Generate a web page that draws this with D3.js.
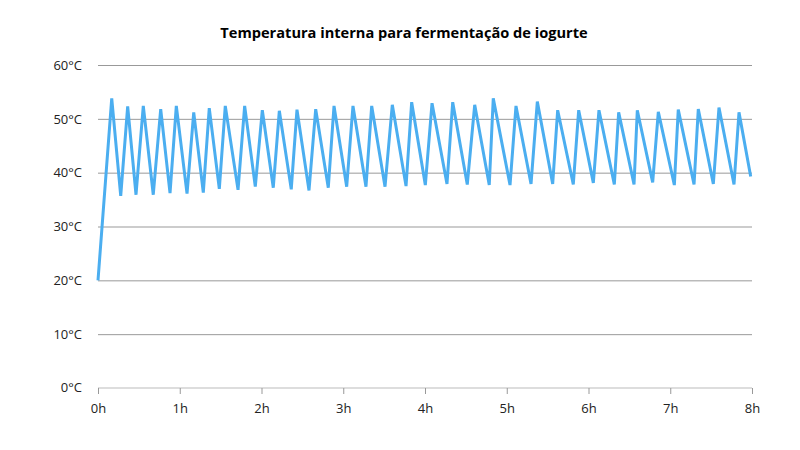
<!DOCTYPE html>
<html>
<head>
<meta charset="utf-8">
<script src="https://cdn.jsdelivr.net/npm/d3@7"></script>
<style>
  body { margin: 0; background: #fff; }
  svg { display: block; font-family: "Open Sans", sans-serif; }
</style>
</head>
<body>
<svg id="chart" width="800" height="450"></svg>
<script>
const title = "Temperatura interna para fermentação de iogurte";
const hours = [0, 0.168, 0.278, 0.363, 0.465, 0.554, 0.676, 0.767, 0.881, 0.958, 1.089, 1.171, 1.288, 1.361, 1.484, 1.557, 1.713, 1.794, 1.924, 2.010, 2.144, 2.218, 2.364, 2.434, 2.581, 2.663, 2.817, 2.887, 3.042, 3.119, 3.278, 3.348, 3.511, 3.600, 3.768, 3.837, 4.004, 4.086, 4.269, 4.339, 4.517, 4.608, 4.786, 4.835, 5.040, 5.113, 5.297, 5.374, 5.562, 5.623, 5.814, 5.880, 6.059, 6.128, 6.316, 6.369, 6.557, 6.597, 6.785, 6.854, 7.050, 7.098, 7.291, 7.343, 7.527, 7.596, 7.780, 7.841, 7.984];
const temps = [20, 53.8, 35.7, 52.3, 35.9, 52.4, 35.9, 51.8, 36.2, 52.4, 36.1, 51.2, 36.3, 52.0, 37.0, 52.4, 36.8, 52.4, 37.4, 51.6, 37.2, 51.5, 36.9, 51.7, 36.7, 51.8, 37.2, 52.4, 37.4, 52.4, 37.4, 52.4, 37.4, 52.6, 37.5, 53.1, 37.7, 52.9, 37.9, 53.1, 37.8, 52.6, 37.7, 53.8, 37.7, 52.4, 37.9, 53.2, 37.9, 51.6, 37.8, 51.6, 38.1, 51.6, 37.8, 51.2, 37.8, 51.6, 38.2, 51.3, 37.7, 51.7, 37.8, 51.8, 37.9, 52.1, 37.8, 51.2, 39.3];
const yTicks = [0, 10, 20, 30, 40, 50, 60];
const xTicks = [0, 1, 2, 3, 4, 5, 6, 7, 8];

const data = hours.map((h, i) => ({ h, t: temps[i] }));
const svg = d3.select("#chart");
const x = d3.scaleLinear().domain([0, 8]).range([98, 752]);
const y = d3.scaleLinear().domain([0, 60]).range([388, 65]);

svg.append("text")
  .attr("x", 404).attr("y", 38)
  .attr("text-anchor", "middle")
  .attr("font-size", 14.6).attr("font-weight", 700)
  .attr("fill", "#000")
  .text(title);

// grid + y labels
const yAxis = svg.append("g").attr("transform", "translate(98,0)")
  .call(d3.axisLeft(y).tickValues(yTicks.slice(1)).tickSize(-654).tickPadding(16).tickFormat(d => d + "°C"));
yAxis.select(".domain").remove();
yAxis.selectAll(".tick line").attr("stroke", "#999").attr("stroke-width", 1);
yAxis.selectAll(".tick text").attr("font-size", 13).attr("fill", "#222").attr("font-family", "'Open Sans', sans-serif");

// zero label
svg.append("text").attr("x", 82).attr("y", 392).attr("text-anchor", "end")
  .attr("font-size", 13).attr("fill", "#222").text(yTicks[0] + "°C");

// x axis
const xAxis = svg.append("g").attr("transform", "translate(0,388)")
  .call(d3.axisBottom(x).tickValues(xTicks).tickSize(6).tickPadding(10).tickFormat(d => d + "h"));
xAxis.select(".domain").attr("stroke", "#bbb").attr("d", "M98,0H752");
xAxis.selectAll(".tick line").attr("stroke", "#999");
xAxis.selectAll(".tick text").attr("font-size", 13).attr("fill", "#222").attr("font-family", "'Open Sans', sans-serif");

svg.append("path").datum(data)
  .attr("fill", "none")
  .attr("stroke", "#4baef0")
  .attr("stroke-width", 3)
  .attr("stroke-linejoin", "miter")
  .attr("d", d3.line().x(d => x(d.h)).y(d => y(d.t)));
</script>
</body>
</html>
